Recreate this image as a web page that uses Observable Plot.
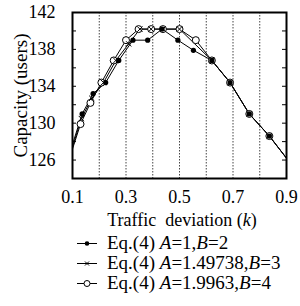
<!DOCTYPE html>
<html>
<head>
<meta charset="utf-8">
<script src="https://cdn.jsdelivr.net/npm/d3@7"></script>
<script src="https://cdn.jsdelivr.net/npm/@observablehq/plot@0.6"></script>
<style>
  body { margin: 0; background: #fff; font-family: "Liberation Serif", serif; color: #000; }
  #chart svg { display: block; }
  .xtitle { height: 20px; line-height: 20px; font-size: 18px; text-align: center; padding-left: 64px; white-space: nowrap; }
  .legend { margin-top: 3px; padding-left: 77px; }
  .row { height: 20px; line-height: 20px; font-size: 19px; white-space: nowrap; display: flex; align-items: center; }
  .row svg { margin-right: 10px; flex: none; }
</style>
</head>
<body>
<div id="chart"></div>
<div class="xtitle">Traffic&nbsp; deviation (<i>k</i>)</div>
<div class="legend" id="legend"></div>
<script>
// Series 1: Eq.(4) A=1, B=2 (filled dots)
const xs1 = [0.1, 0.136, 0.177, 0.224, 0.273, 0.326, 0.381, 0.435, 0.494, 0.552, 0.621, 0.689, 0.761, 0.836, 0.9];
const ys1 = [127.7, 131.0, 133.2, 134.4, 136.8, 139.0, 139.0, 140.2, 139.0, 137.9, 136.8, 134.4, 131.0, 128.6, 126.2];
// Series 2: Eq.(4) A=1.49738, B=3 (crosses)
const xs2 = [0.1, 0.133, 0.172, 0.216, 0.262, 0.310, 0.352, 0.394, 0.438, 0.500, 0.621, 0.689, 0.761, 0.836, 0.9];
const ys2 = [127.4, 130.5, 132.7, 134.4, 136.8, 138.6, 140.2, 140.2, 140.2, 140.2, 136.8, 134.4, 131.0, 128.6, 126.2];
// Series 3: Eq.(4) A=1.9963, B=4 (open circles)
const xs3 = [0.1, 0.130, 0.167, 0.208, 0.254, 0.300, 0.347, 0.394, 0.438, 0.500, 0.561, 0.621, 0.689, 0.761, 0.836, 0.9];
const ys3 = [127.2, 129.9, 132.2, 134.4, 136.8, 139.0, 140.2, 140.2, 140.2, 140.2, 139.0, 136.8, 134.4, 131.0, 128.6, 126.2];

const seriesNames = ["s1", "s2", "s3"];
const xTicks = [0.1, 0.3, 0.5, 0.7, 0.9];
const xGrid = [0.2, 0.3, 0.4, 0.5, 0.6, 0.7, 0.8];
const yTicks = [126, 130, 134, 138, 142];
const yMinorTicks = [126, 128, 130, 132, 134, 136, 138, 140];
const yTitle = "Capacity (users)";

const toRows = (xs, ys, s) => xs.map((x, i) => ({x, y: ys[i], s}));
const s1 = toRows(xs1, ys1, seriesNames[0]);
const s2 = toRows(xs2, ys2, seriesNames[1]);
const s3 = toRows(xs3, ys3, seriesNames[2]);
const all = [...s1, ...s2, ...s3];
const inner = d => d.x > 0.1 && d.x < 0.9;

const W = 300, H = 210, mL = 72, mR = 14, mT = 12, mB = 32;
const iw = W - mL - mR;

const chart = Plot.plot({
  width: W, height: H,
  marginLeft: mL, marginRight: mR, marginTop: mT, marginBottom: mB,
  style: {fontFamily: "Liberation Serif", fontSize: "18px", background: "white", color: "black"},
  x: {domain: [0.1, 0.9]},
  y: {domain: [124, 142]},
  marks: [
    Plot.ruleX(xGrid, {stroke: "#444", strokeDasharray: "1.5,1.5", strokeWidth: 1}),
    Plot.tickY(yMinorTicks, {y: d => d, insetRight: iw - 4, stroke: "black"}),
    Plot.tickY(yMinorTicks, {y: d => d, insetLeft: iw - 4, stroke: "black"}),
    Plot.line(all, {x: "x", y: "y", z: "s", stroke: "black", strokeWidth: 1, clip: true}),
    Plot.dot(s3.filter(inner), {x: "x", y: "y", r: 3.5, fill: "white", stroke: "black", strokeWidth: 1}),
    Plot.dot(s2.filter(inner), {x: "x", y: "y", r: 2.5, symbol: "times", stroke: "black", strokeWidth: 1}),
    Plot.dot(s1.filter(inner), {x: "x", y: "y", r: 2.6, fill: "black"}),
    Plot.frame({stroke: "black", strokeWidth: 2}),
    Plot.axisX({ticks: xTicks, tickFormat: d => d.toFixed(1), tickSize: 0, tickPadding: 12, label: null}),
    Plot.axisY({ticks: yTicks, tickFormat: d => String(d), tickSize: 0, tickPadding: 17, label: null}),
    Plot.text([yTitle], {frameAnchor: "left", textAnchor: "middle", lineAnchor: "middle", rotate: -90, dx: -52, fontSize: 19, text: d => d})
  ]
});
document.getElementById("chart").appendChild(chart);

// Legend
const legendItems = [
  {marker: "dot", html: "Eq.(4) <i>A</i>=1,<i>B</i>=2"},
  {marker: "times", html: "Eq.(4) <i>A</i>=1.49738,<i>B</i>=3"},
  {marker: "circle", html: "Eq.(4) <i>A</i>=1.9963,<i>B</i>=4"}
];
const legend = d3.select("#legend");
legendItems.forEach(item => {
  const row = legend.append("div").attr("class", "row");
  const sw = row.append("svg").attr("width", 20).attr("height", 20);
  sw.append("line").attr("x1", 0).attr("x2", 20).attr("y1", 10.5).attr("y2", 10.5).attr("stroke", "black").attr("stroke-width", 1);
  if (item.marker === "dot") sw.append("circle").attr("cx", 10).attr("cy", 10.5).attr("r", 2.3).attr("fill", "black");
  if (item.marker === "circle") sw.append("circle").attr("cx", 10).attr("cy", 10.5).attr("r", 3).attr("fill", "white").attr("stroke", "black");
  if (item.marker === "times") sw.append("path").attr("d", "M8,8.5L12,12.5M12,8.5L8,12.5").attr("stroke", "black").attr("stroke-width", 1);
  row.append("span").html(item.html);
});
</script>
</body>
</html>
